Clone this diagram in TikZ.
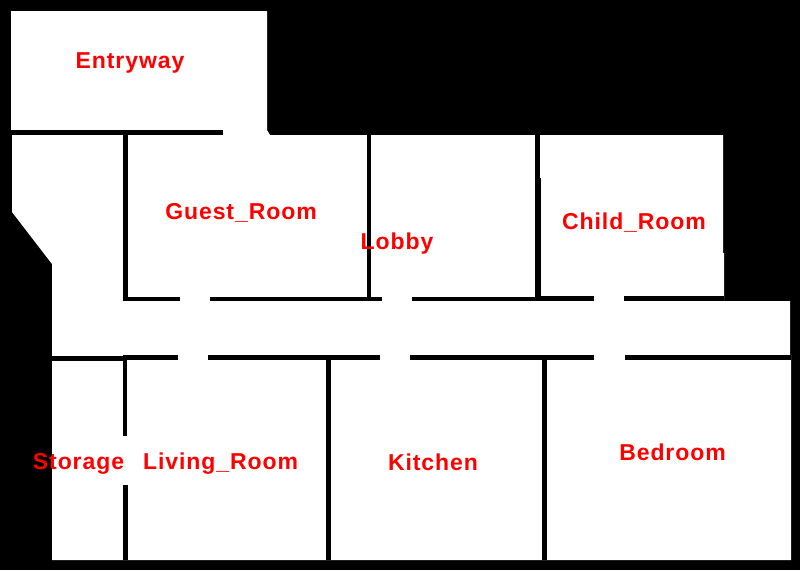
\documentclass[tikz,border=0pt]{standalone}
\usepackage{fontspec}
\setmainfont{Liberation Sans}[LetterSpace=4]
\begin{document}
\begin{tikzpicture}[x=1pt,y=-1pt,
        wall/.style={fill=black,draw=none},
        floor/.style={fill=white,draw=none},
        roomlabel/.style={anchor=base,inner sep=0pt,outer sep=0pt,text=red,font=\fontsize{23}{25}\bfseries\selectfont}]
        \useasboundingbox (0,0) rectangle (800,570);
        % Ground
        \fill[black] (0,0) rectangle (800,570);
        % Floor
        \fill[floor] (11,11) -- (267,11) -- (267,130) -- (270,135) -- (723,135) -- (723,253) -- (724,253)
          -- (724,301) -- (790,301) -- (790,355) -- (791,355) -- (791,560) -- (52,560) -- (52,264)
          -- (12,212) -- (12,135) -- (11,130) -- cycle;
        % Walls above the corridor
        \fill[wall] (11,130) rectangle (223,135);
        \fill[wall] (123,135) rectangle (128,301);
        \fill[wall] (367,135) rectangle (371,297);
        \fill[wall] (535,135) rectangle (540,178);
        \fill[wall] (535,178) rectangle (541,297);
        \fill[wall] (123,297) rectangle (180,301);
        \fill[wall] (210,297) rectangle (382,301);
        \fill[wall] (412,297) rectangle (535,301);
        \fill[wall] (535,296) rectangle (594,301);
        \fill[wall] (624,296) rectangle (724,301);
        % Walls below the corridor
        \fill[wall] (52,356) rectangle (123,361);
        \fill[wall] (123,355) rectangle (178,360);
        \fill[wall] (208,355) rectangle (380,360);
        \fill[wall] (410,355) rectangle (594,360);
        \fill[wall] (625,355) rectangle (791,360);
        \fill[wall] (123,360) rectangle (127,436);
        \fill[wall] (123,485) rectangle (128,560);
        \fill[wall] (326,360) rectangle (331,560);
        \fill[wall] (542,360) rectangle (547,560);
        % Rooms
        \node[roomlabel] (entryway) at (130,68) {Entryway};
        \node[roomlabel] (guestroom) at (241,219) {Guest\_Room};
        \node[roomlabel] (lobby) at (397,249) {Lobby};
        \node[roomlabel] (childroom) at (634,229) {Child\_Room};
        \node[roomlabel] (storage) at (78.5,469) {Storage};
        \node[roomlabel] (livingroom) at (220.5,469) {Living\_Room};
        \node[roomlabel] (kitchen) at (433,470) {Kitchen};
        \node[roomlabel] (bedroom) at (672.5,460) {Bedroom};
    \end{tikzpicture}
\end{document}
